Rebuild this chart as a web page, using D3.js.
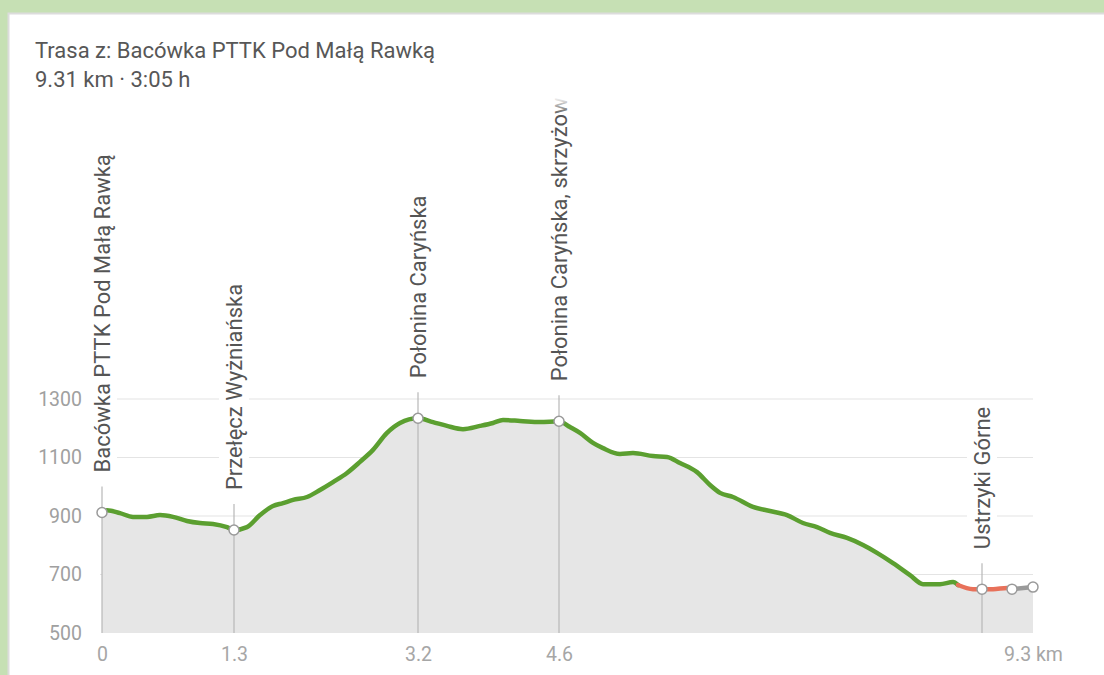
<!DOCTYPE html>
<html><head><meta charset="utf-8">
<script src="https://cdn.jsdelivr.net/npm/d3@7"></script>
<style>
body{margin:0;background:#c6e0b4;overflow:hidden}
svg{display:block;font-family:Roboto,"Noto Sans",sans-serif}
</style></head>
<body><svg id="c" width="1104" height="675"></svg>
<script>
// ---------- data ----------
const titleLines = ["Trasa z: Bacówka PTTK Pod Małą Rawką", "9.31 km · 3:05 h"];
const distKm = [0,0.05,0.18,0.31,0.45,0.58,0.71,0.85,0.98,1.11,1.25,1.32,1.45,1.58,1.71,1.81,1.91,2.05,2.18,2.31,2.45,2.58,2.71,2.85,2.98,3.16,3.31,3.45,3.61,3.78,3.91,4.01,4.18,4.38,4.57,4.68,4.78,4.91,5.01,5.18,5.31,5.51,5.65,5.78,5.95,6.08,6.18,6.31,6.51,6.68,6.85,7.01,7.15,7.28,7.45,7.61,7.75,7.91,8.08,8.21,8.38,8.51,8.56,8.71,8.80,8.91,9.05,9.10,9.31];
const elevM  = [912,920,910,897,897,903,897,883,876,873,862,852,862,903,934,944,955,965,989,1016,1047,1085,1126,1184,1218,1234,1221,1208,1197,1208,1218,1228,1225,1221,1224,1204,1184,1150,1132,1112,1115,1105,1102,1081,1050,1006,979,965,931,917,903,876,862,842,825,801,774,739,698,667,667,674,664,650,650,650,654,650,657];
const segStartKm = [0, 8.56, 9.10];
const segEndKm   = [8.56, 9.10, 9.31];
const segColors  = ["#5b9f30", "#e8715a", "#9a9a9a"];
const wpNames = ["Bacówka PTTK Pod Małą Rawką","Przełęcz Wyżniańska","Połonina Caryńska","Połonina Caryńska, skrzyżow","Ustrzyki Górne","",""];
const wpKm    = [0,1.32,3.16,4.57,8.80,9.10,9.31];
const wpElev  = [912,852,1234,1224,650,650,657];
const xTickKm     = [0,1.32,3.16,4.57,9.31];
const xTickLabels = ["0","1.3","3.2","4.6","9.3 km"];
const yTicks = [500,700,900,1100,1300];

// ---------- layout ----------
const svg = d3.select("#c");
svg.append("rect").attr("x",8.5).attr("y",13.5).attr("width",1110).attr("height",680)
   .attr("fill","#fff").attr("stroke","#dcdcdc").attr("stroke-width",2);

const x = d3.scaleLinear().domain([0,9.31]).range([102,1033]);
const y = d3.scaleLinear().domain([500,1300]).range([633,399]);

// title
svg.selectAll("text.title").data(titleLines).join("text")
  .attr("class","title").attr("x",35).attr("y",(d,i)=>58+i*29)
  .attr("fill","#575757").attr("font-size",22).text(d=>d);

// grid
svg.append("g").selectAll("line").data(yTicks.filter(v=>v>500)).join("line")
  .attr("x1",100).attr("x2",1033).attr("y1",d=>y(d)).attr("y2",d=>y(d))
  .attr("stroke","#e4e4e4").attr("stroke-width",1.2);

const pts = distKm.map((d,i)=>({km:d, e:elevM[i]}));

// area
svg.append("path").datum(pts)
  .attr("fill","#e6e6e6")
  .attr("d", d3.area().x(d=>x(d.km)).y0(y(500)).y1(d=>y(d.e)).curve(d3.curveMonotoneX));

// y axis labels
const yAx = svg.append("g").attr("transform","translate(82,0)")
  .call(d3.axisLeft(y).tickValues(yTicks).tickSize(0).tickPadding(0).tickFormat(d3.format("d")));
yAx.select(".domain").remove();
yAx.selectAll("text").attr("fill","#a0a0a0").attr("font-size",19.5).attr("font-family","Roboto");

// x axis labels
const xAx = svg.append("g").attr("transform","translate(0,647)")
  .call(d3.axisBottom(x).tickValues(xTickKm).tickSize(0).tickPadding(0)
        .tickFormat((d,i)=>xTickLabels[i]));
xAx.select(".domain").remove();
xAx.selectAll("text").attr("fill","#a6a6a6").attr("font-size",19.5).attr("font-family","Roboto");

// waypoint vertical lines
const wps = wpKm.map((k,i)=>({km:k, e:wpElev[i], name:wpNames[i]}));
const named = wps.filter(d=>d.name);
svg.append("g").selectAll("line").data(named).join("line")
  .attr("x1",d=>x(d.km)).attr("x2",d=>x(d.km))
  .attr("y1",d=>y(d.e)-26).attr("y2",y(500))
  .attr("stroke","#b8b8b8").attr("stroke-width",1.2);

// line segments
const line = d3.line().x(d=>x(d.km)).y(d=>y(d.e)).curve(d3.curveMonotoneX);
segColors.forEach((c,i)=>{
  const seg = pts.filter(p=>p.km>=segStartKm[i]-1e-9 && p.km<=segEndKm[i]+1e-9);
  svg.append("path").datum(seg).attr("fill","none").attr("stroke",c)
    .attr("stroke-width",4.5).attr("stroke-linecap","round").attr("stroke-linejoin","round")
    .attr("d",line);
});

// markers
svg.append("g").selectAll("circle").data(wps).join("circle")
  .attr("cx",d=>x(d.km)).attr("cy",d=>y(d.e)).attr("r",5)
  .attr("fill","#fff").attr("stroke","#9a9a9a").attr("stroke-width",1.5);

// labels
const defs = svg.append("defs");
const grad = defs.append("linearGradient").attr("id","fade").attr("x1",0).attr("y1",0).attr("x2",0).attr("y2",1);
grad.append("stop").attr("offset","0").attr("stop-color","#fff").attr("stop-opacity",1);
grad.append("stop").attr("offset","1").attr("stop-color","#fff").attr("stop-opacity",0);

const lg = svg.append("g");
const lab = lg.selectAll("g").data(named).join("g")
  .attr("transform",d=>`translate(${x(d.km)},${y(d.e)-40}) rotate(-90)`);
lab.append("rect").attr("class","bg");
lab.append("text").attr("x",0).attr("y",0).attr("dy","0.35em")
  .attr("fill","#555").attr("font-size",22).text(d=>d.name);
lab.each(function(){
  const t = d3.select(this).select("text").node().getBBox();
  d3.select(this).select("rect").attr("x",t.x-4).attr("y",-15).attr("width",t.width+8).attr("height",30).attr("fill","#fff");
});
svg.append("rect").attr("x",12).attr("y",97).attr("width",1092).attr("height",18).attr("fill","url(#fade)");
</script></body></html>
